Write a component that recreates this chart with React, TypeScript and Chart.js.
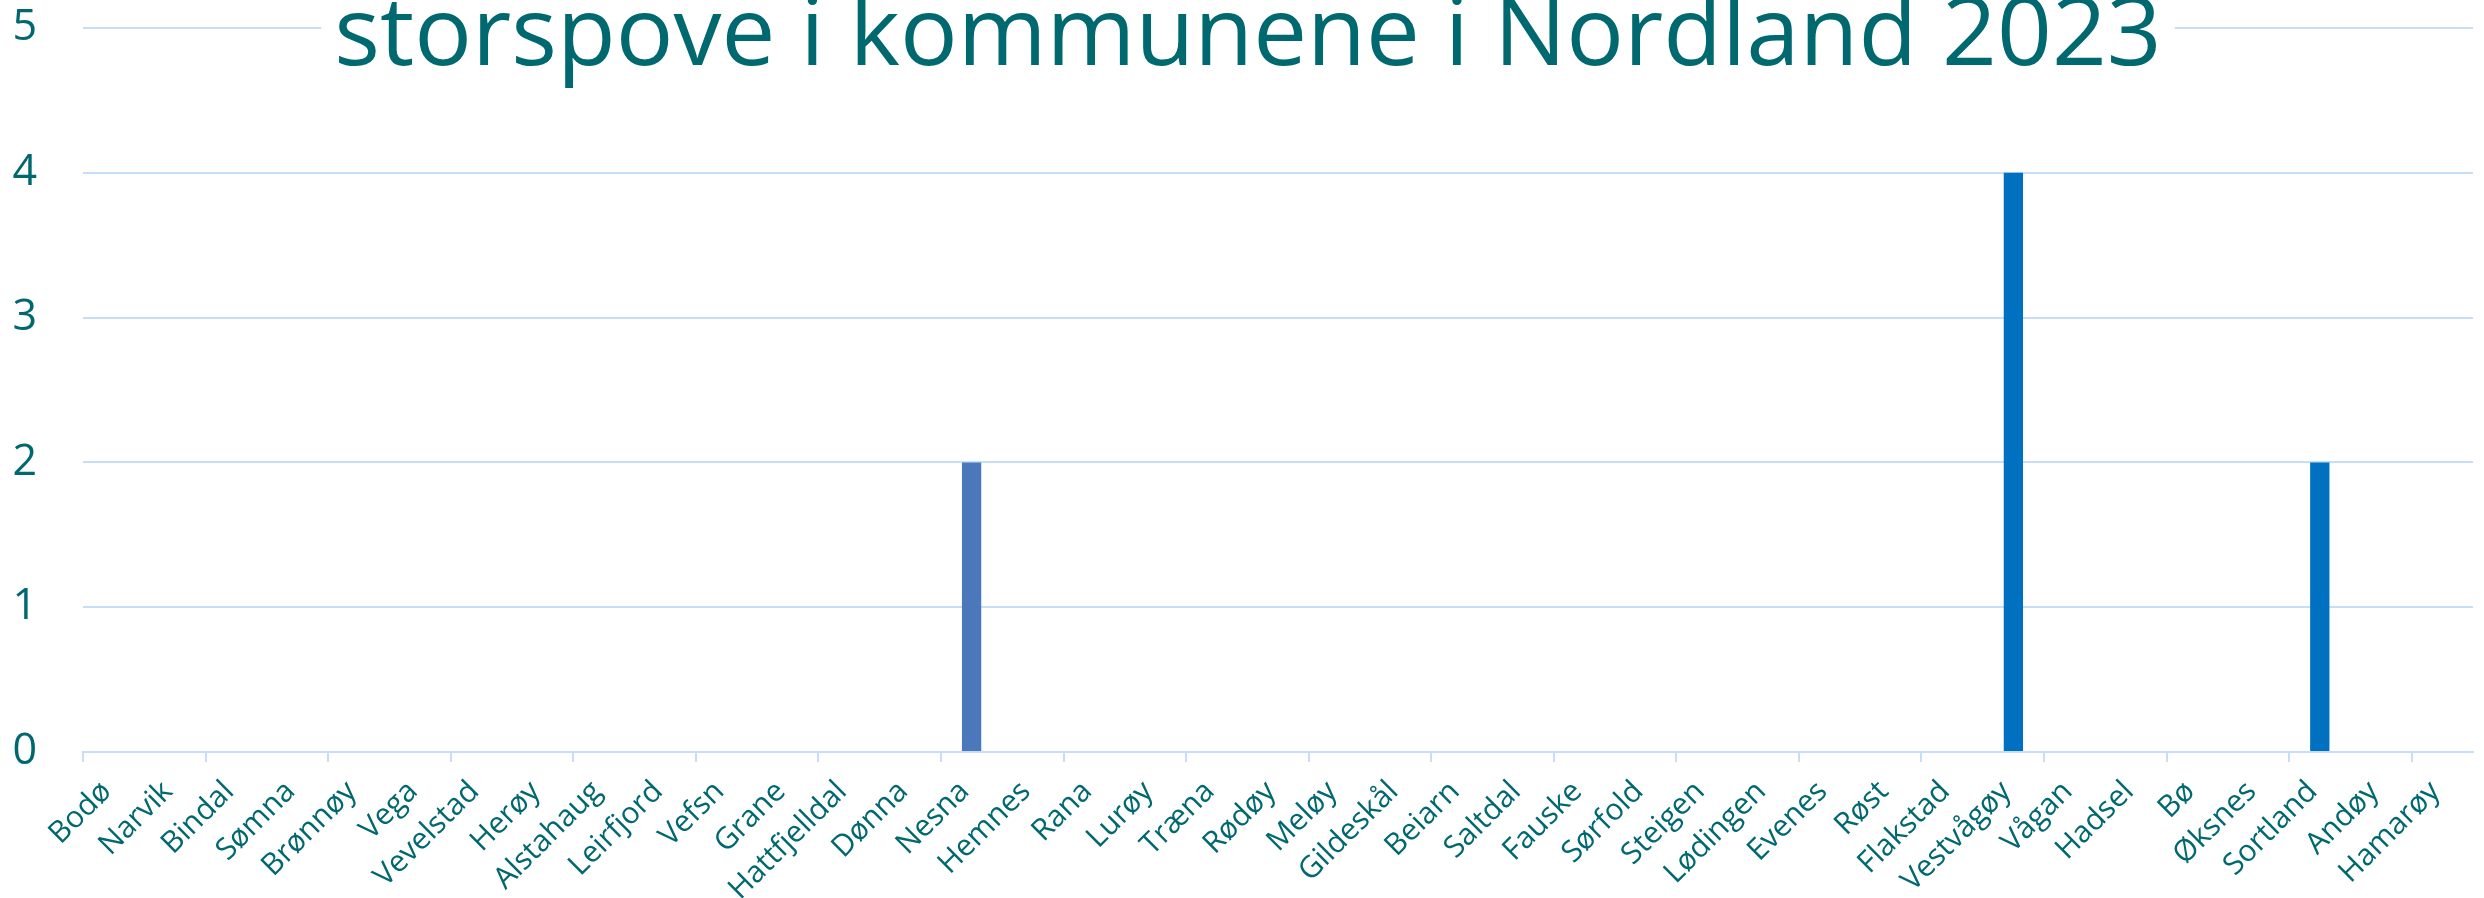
import { useEffect, useRef } from 'react';
import { Chart, registerables } from 'chart.js';

Chart.register(...registerables);

const categories = [
  'Bodø', 'Narvik', 'Bindal', 'Sømna', 'Brønnøy', 'Vega', 'Vevelstad', 'Herøy', 'Alstahaug', 'Leirfjord',
  'Vefsn', 'Grane', 'Hattfjelldal', 'Dønna', 'Nesna', 'Hemnes', 'Rana', 'Lurøy', 'Træna', 'Rødøy',
  'Meløy', 'Gildeskål', 'Beiarn', 'Saltdal', 'Fauske', 'Sørfold', 'Steigen', 'Lødingen', 'Evenes', 'Røst',
  'Flakstad', 'Vestvågøy', 'Vågan', 'Hadsel', 'Bø', 'Øksnes', 'Sortland', 'Andøy', 'Hamarøy',
];

const values = [
  0, 0, 0, 0, 0, 0, 0, 0, 0, 0,
  0, 0, 0, 0, 2, 0, 0, 0, 0, 0,
  0, 0, 0, 0, 0, 0, 0, 0, 0, 0,
  0, 4, 0, 0, 0, 0, 2, 0, 0,
];

const yTickValues = [0, 1, 2, 3, 4, 5];
const highlighted = ['Nesna'];
const titleText = 'storspove i kommunene i Nordland 2023';

const TEAL = '#00686F';
const GRID = '#C6DEF9';
const BAR = '#0070C0';
const BAR_ALT = '#4A78BB';

const titlePlugin = {
  id: 'overlayTitle',
  afterDraw(chart: any) {
    const ctx = chart.ctx as CanvasRenderingContext2D;
    ctx.save();
    ctx.font = '96px "Open Sans"';
    const w = ctx.measureText(titleText).width;
    const cx = 1248;
    ctx.fillStyle = '#ffffff';
    ctx.fillRect(cx - w / 2 - 13, 0, w + 26, 50);
    ctx.fillStyle = TEAL;
    ctx.textAlign = 'center';
    ctx.textBaseline = 'alphabetic';
    ctx.fillText(titleText, cx, 65);
    ctx.restore();
  },
};

export default function App() {
  const ref = useRef<HTMLCanvasElement | null>(null);

  useEffect(() => {
    if (!ref.current) return;
    const chart = new Chart(ref.current, {
      type: 'bar',
      data: {
        labels: categories,
        datasets: [
          {
            data: values,
            backgroundColor: categories.map((c) => (highlighted.includes(c) ? BAR_ALT : BAR)),
            borderWidth: 0,
            barPercentage: 0.315,
            categoryPercentage: 1,
          },
        ],
      },
      options: {
        animation: false,
        responsive: false,
        maintainAspectRatio: false,
        layout: { padding: { top: 28, right: 11, left: 0, bottom: 0 } },
        plugins: {
          legend: { display: false },
          title: { display: false },
          tooltip: { enabled: false },
        },
        scales: {
          x: {
            offset: true,
            grid: {
              offset: true,
              drawOnChartArea: false,
              drawTicks: true,
              tickLength: 10,
              lineWidth: 2,
              color: (c: any) => (c.index % 2 === 0 ? GRID : 'rgba(0,0,0,0)'),
            },
            border: { display: true, color: GRID, width: 2 },
            ticks: {
              autoSkip: false,
              minRotation: 45,
              maxRotation: 45,
              color: TEAL,
              font: { family: 'Open Sans', size: 30 },
              padding: 12,
              labelOffset: -7,
            },
            afterFit: (s: any) => {
              s.height = 146;
              s.paddingLeft = 0;
              s.paddingRight = 0;
            },
          },
          y: {
            min: 0,
            max: 5,
            afterBuildTicks: (s: any) => {
              s.ticks = yTickValues.map((v) => ({ value: v }));
            },
            grid: { color: GRID, lineWidth: 2, drawTicks: false },
            border: { display: false },
            ticks: {
              color: TEAL,
              font: { family: 'Open Sans', size: 43 },
              padding: 46,
            },
            afterFit: (s: any) => {
              s.width = 83;
              s.paddingTop = 0;
              s.paddingBottom = 0;
            },
          },
        },
      },
      plugins: [titlePlugin],
    });
    return () => chart.destroy();
  }, []);

  return (
    <div style={{ position: 'fixed', left: 0, top: 0, width: 2484, height: 898, background: '#fff' }}>
      <canvas ref={ref} width={2484} height={898} />
    </div>
  );
}
